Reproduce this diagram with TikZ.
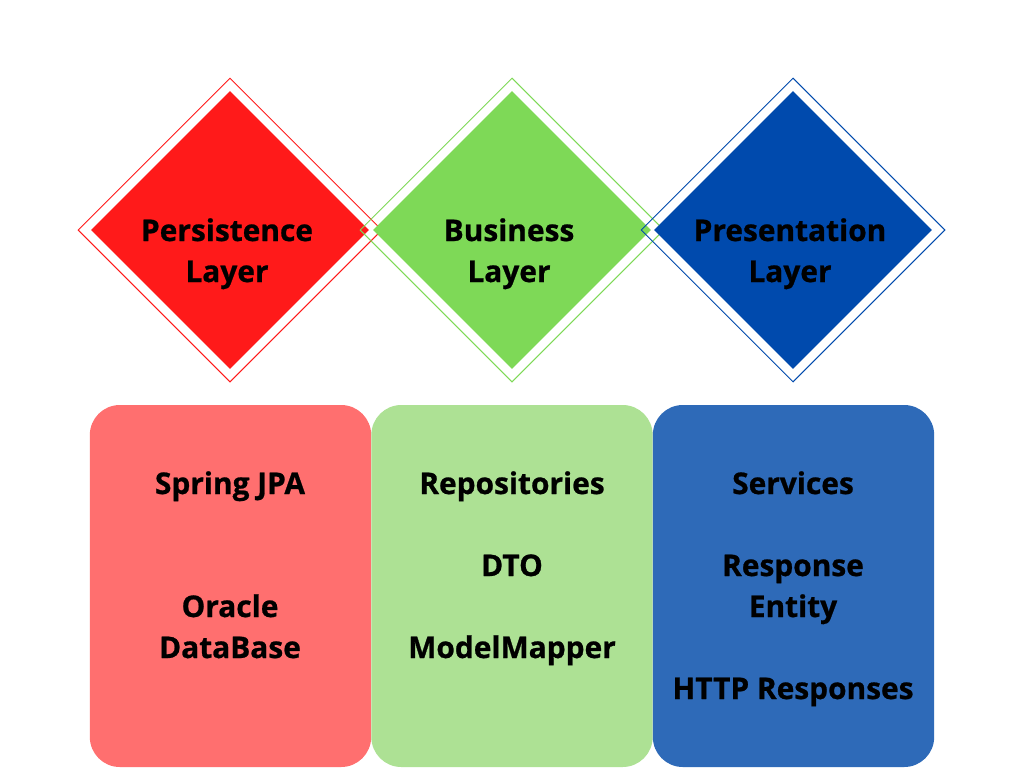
\documentclass[tikz,border=0pt]{standalone}
\usepackage{fontspec}
\setmainfont{Open Sans}[BoldFeatures={FakeBold=0.8}]
\usetikzlibrary{shapes.geometric}
\definecolor{dred}{HTML}{FF1A1A}
\definecolor{dgreen}{HTML}{7ED957}
\definecolor{dblue}{HTML}{004AAD}
\definecolor{bred}{HTML}{FF6F6F}
\definecolor{bgreen}{HTML}{ADE194}
\definecolor{bblue}{HTML}{2E6AB8}
\tikzset{
  outerdia/.style={diamond, aspect=1, inner sep=0pt, minimum width=228pt, minimum height=228pt, line width=0.75pt},
  innerdia/.style={diamond, aspect=1, inner sep=0pt, minimum width=208.5pt, minimum height=208.5pt},
  layerbox/.style={rectangle, rounded corners=22.5pt, inner sep=0pt, minimum width=211pt, minimum height=271.5pt},
  lbl/.style={anchor=base, inner sep=0pt, font=\fontsize{22.4}{30.75}\selectfont\bfseries}
}
\begin{document}
\begin{tikzpicture}[x=0.75pt,y=-0.75pt]
\useasboundingbox (0,0) rectangle (1024,768);
\fill[white] (0,0) rectangle (1024,768);
% diamonds
\node[outerdia, draw=dred] (rdo) at (230,230) {};
\node[innerdia, fill=dred] (rdi) at (230,230) {};
\node[outerdia, draw=dgreen] (gdo) at (512,230) {};
\node[innerdia, fill=dgreen] (gdi) at (512,230) {};
\node[outerdia, draw=dblue] (bdo) at (793,230) {};
\node[innerdia, fill=dblue] (bdi) at (793,230) {};
\node[lbl] (t1a) at (227,241) {Persistence};
\node[lbl] (t1b) at (227,282) {Layer};
\node[lbl] (t2a) at (509,241) {Business};
\node[lbl] (t2b) at (509,282) {Layer};
\node[lbl] (t3a) at (790,241) {Presentation};
\node[lbl] (t3b) at (790,282) {Layer};
% boxes
\node[layerbox, fill=bred] (rb) at (230.5,586) {};
\node[layerbox, fill=bgreen] (gb) at (512,586) {};
\node[layerbox, fill=bblue] (bb) at (793.5,586) {};
\node[lbl] (s1) at (230,494) {Spring JPA};
\node[lbl] (s2) at (230,617) {Oracle};
\node[lbl] (s3) at (230,658) {DataBase};
\node[lbl] (g1) at (512,494) {Repositories};
\node[lbl] (g2) at (512,576) {DTO};
\node[lbl] (g3) at (512,658) {ModelMapper};
\node[lbl] (b1) at (793,494) {Services};
\node[lbl] (b2) at (793,576) {Response};
\node[lbl] (b3) at (793,617) {Entity};
\node[lbl] (b4) at (793,699) {HTTP Responses};
\end{tikzpicture}
\end{document}
